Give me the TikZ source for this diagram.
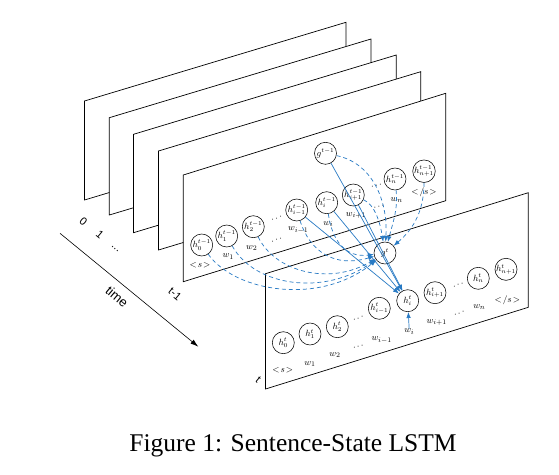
\documentclass[tikz,border=0pt]{standalone}
\usepackage{fontspec}
\newfontfamily\capfont{Liberation Serif}
\newfontfamily\lblfont{Liberation Sans}
\usetikzlibrary{arrows.meta}
\definecolor{slblue}{RGB}{40,122,196}
\begin{document}
\begin{tikzpicture}[x=1pt,y=-1pt,
  plane/.style={draw=black, line width=0.7pt, fill=white, line join=miter},
  hn/.style={circle, draw=black, line width=0.55pt, minimum size=22pt, inner sep=0pt, font=\fontsize{9}{10}\selectfont},
  wl/.style={inner sep=0pt, font=\fontsize{9.5}{10}\selectfont},
  dotl/.style={inner sep=0pt, font=\fontsize{9}{10}\selectfont, rotate=17},
  solidarr/.style={draw=slblue, line width=0.7pt, -{Latex[length=6pt,width=4.5pt]}},
  dasharr/.style={solidarr, dash pattern=on 4pt off 3pt},
  tlab/.style={font=\lblfont\fontsize{11}{12}\selectfont, rotate=-40, inner sep=0pt},
  caplab/.style={font=\capfont\fontsize{25.5}{28}\selectfont, inner sep=0pt, anchor=base}
]
\useasboundingbox (0,0) rectangle (559,474);

% planes, back to front
\draw[plane] (84.5,101) -- (346,22.3) -- (346,121.3) -- (84.5,200) -- cycle;
\draw[plane] (109.3,117.7) -- (371,39) -- (371,136.5) -- (109.3,215) -- cycle;
\draw[plane] (133.5,134.3) -- (396.3,55) -- (396.3,153.4) -- (133.5,232.7) -- cycle;
\draw[plane] (158.5,151) -- (420.7,71.7) -- (420.7,170.7) -- (158.5,250) -- cycle;
\draw[plane] (183.3,175) -- (445.7,93.3) -- (445.7,200.7) -- (183.3,281.7) -- cycle;
\draw[plane] (265.5,273.7) -- (528.3,192.7) -- (528.3,307.3) -- (265.5,389) -- cycle;

% time axis
\coordinate (ts) at (60,233.3);
\coordinate (te) at (198.3,346.7);
\draw[line width=0.6pt, -{Latex[length=8pt,width=5pt]}] (ts) -- (te);
\node[tlab, font=\lblfont\fontsize{13}{14}\selectfont] (time) at (117,297) {time};
\node[tlab] (l0) at (83.3,221.7) {0};
\node[tlab] (l1) at (100,235) {1};
\node[tlab] (ldots) at (115,249) {...};
\node[tlab] (ltm1) at (175,294) {t-1};
\node[tlab] (lt) at (258.3,380) {t};

% plane t-1 nodes
\node[hn] (h0p) at (201.7,245) {$h_0^{t-1}$};
\node[hn] (h1p) at (226.7,236) {$h_1^{t-1}$};
\node[hn] (h2p) at (253.3,226.7) {$h_2^{t-1}$};
\node[hn] (himp) at (296.7,210) {$h_{i-1}^{t-1}$};
\node[hn] (hip) at (326.7,202.7) {$h_i^{t-1}$};
\node[hn] (hipp) at (353.3,195) {$h_{i+1}^{t-1}$};
\node[hn] (hnp) at (395,179) {$h_n^{t-1}$};
\node[hn] (hnpp) at (424,171.2) {$h_{n+1}^{t-1}$};
\node[hn] (gp) at (325.5,153.3) {$g^{t-1}$};
\node[wl] (s0p) at (200,265) {$<\!s\!>$};
\node[wl] (w1p) at (228.3,256.7) {$w_1$};
\node[wl] (w2p) at (251.7,248.3) {$w_2$};
\node[dotl] (d1p) at (276.7,218.3) {$\ldots$};
\node[dotl] (d2p) at (276.7,240) {$\ldots$};
\node[wl] (wimp) at (298.3,230) {$w_{i-1}$};
\node[wl] (wip) at (328.3,224) {$w_i$};
\node[wl] (wipp) at (356,215.5) {$w_{i+1}$};
\node[dotl] (d3p) at (376.5,185.5) {$\ldots$};
\node[dotl] (d4p) at (379,206.7) {$\ldots$};
\node[wl] (wnp) at (396.7,200.3) {$w_n$};
\node[wl] (enp) at (424,192.5) {$<\!/s\!>$};

% g^t
\node[hn] (gt) at (385,253) {$g^{t}$};

% plane t nodes
\node[hn] (h0) at (283.3,342.7) {$h_0^{t}$};
\node[hn] (h1) at (310,334) {$h_1^{t}$};
\node[hn] (h2) at (337.3,326.7) {$h_2^{t}$};
\node[hn] (him) at (379.3,308.3) {$h_{i-1}^{t}$};
\node[hn] (hi) at (407.7,300.7) {$h_i^{t}$};
\node[hn] (hipl) at (435,292.7) {$h_{i+1}^{t}$};
\node[hn] (hn) at (478.3,278.3) {$h_n^{t}$};
\node[hn] (hnpl) at (506,269.3) {$h_{n+1}^{t}$};
\node[wl] (s0) at (282.7,370.7) {$<\!s\!>$};
\node[wl] (w1) at (310,364) {$w_1$};
\node[wl] (w2) at (335,355.3) {$w_2$};
\node[dotl] (d1) at (358.3,318.3) {$\ldots$};
\node[dotl] (d2) at (358.3,346.7) {$\ldots$};
\node[wl] (wim) at (381.7,340) {$w_{i-1}$};
\node[wl] (wi) at (409.3,331.7) {$w_i$};
\node[wl] (wipl) at (436.7,322.7) {$w_{i+1}$};
\node[dotl] (d3) at (458.3,285) {$\ldots$};
\node[dotl] (d4) at (459.3,313.3) {$\ldots$};
\node[wl] (wn) at (479.3,307.3) {$w_n$};
\node[wl] (en) at (507.3,300) {$<\!/s\!>$};

% dashed arrows into g^t
\draw[dasharr] (h0p) .. controls (235,292) and (320,306) .. (gt);
\draw[dasharr] (h1p) .. controls (255,287) and (325,296) .. (gt);
\draw[dasharr] (h2p) .. controls (275,272) and (330,286) .. (gt);
\draw[dasharr] (himp) .. controls (310,252) and (335,268) .. (gt);
\draw[dasharr] (hip) .. controls (332,240) and (345,258) .. (gt);
\draw[dasharr] (hipp) .. controls (375,205) and (380,222) .. (gt);
\draw[dasharr] (gp) .. controls (372,163) and (388,200) .. (gt);
\draw[dasharr] (hnp) .. controls (398,210) and (393,222) .. (gt);
\draw[dasharr] (hnpp) .. controls (424,215) and (410,232) .. (gt);

% solid arrows into h_i^t
\draw[solidarr] (gp) -- (hi);
\draw[solidarr] (hipp) -- (hi);
\draw[solidarr] (hip) -- (hi);
\draw[solidarr] (himp) -- (hi);
\draw[solidarr] (wi) -- (hi);

% caption
\node[caplab] (cap) at (293,451.7) {Figure 1: Sentence-State LSTM};
\end{tikzpicture}
\end{document}
